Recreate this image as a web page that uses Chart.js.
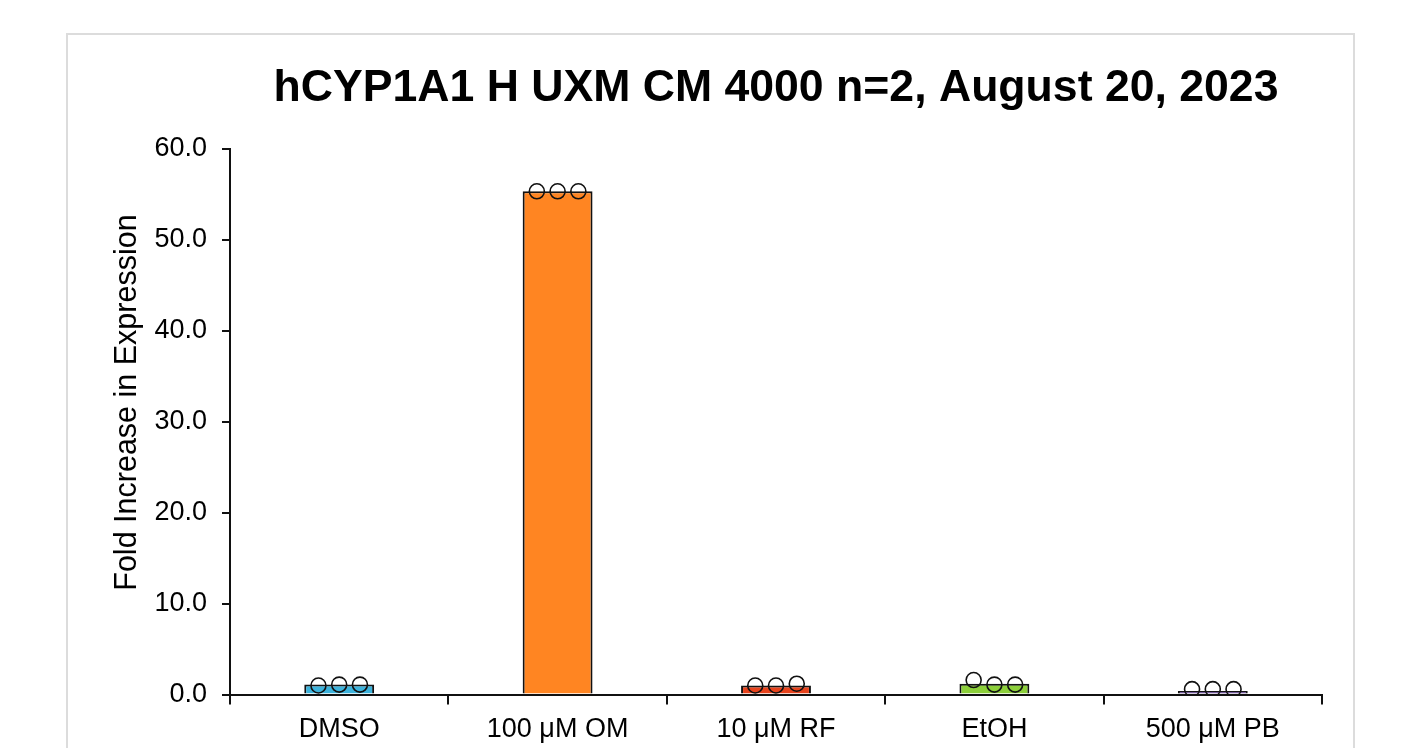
<!DOCTYPE html>
<html>
<head>
<meta charset="utf-8">
<title>hCYP1A1 H UXM CM 4000</title>
<script src="https://cdn.jsdelivr.net/npm/chart.js@4.4.1/dist/chart.umd.min.js"></script>
<style>
  html, body { margin: 0; padding: 0; background: #ffffff; }
  #wrap { position: relative; width: 1410px; height: 748px; overflow: hidden; }
  #frame {
    position: absolute; left: 66px; top: 33px; width: 1289px; height: 760px;
    border: 2px solid #dcdcdc; box-sizing: border-box;
  }
  canvas { position: absolute; left: 0; top: 0; }
</style>
</head>
<body>
<div id="wrap">
  <div id="frame"></div>
  <canvas id="chart" width="1410" height="748"></canvas>
</div>
<script>
// Treatments and measured fold changes
const categories = ['DMSO', '100 \u03bcM OM', '10 \u03bcM RF', 'EtOH', '500 \u03bcM PB'];
const meanFold = [1.1, 55.3, 1.0, 1.2, 0.4];
const replicateA = [1.0, 55.3, 1.0, 1.6, 0.6];
const replicateB = [1.1, 55.3, 1.0, 1.1, 0.6];
const replicateC = [1.1, 55.3, 1.2, 1.1, 0.6];
const barColors = ['#3db3dc', '#ff8522', '#e8431c', '#8ccf3a', '#5b3a8c'];
const yTicks = [0, 10, 20, 30, 40, 50, 60];
const yAxisTitle = 'Fold Increase in Expression';

// replicate positions within each category band (category units)
const spread = [-0.095, 0, 0.095];
function replicatePoints(values, k) {
  return values.map((v, i) => ({ x: i + spread[k], y: v }));
}
const replicateStyle = {
  type: 'scatter',
  xAxisID: 'xr',
  yAxisID: 'y',
  pointRadius: 7.5,
  pointHoverRadius: 7.5,
  pointBackgroundColor: 'rgba(255,255,255,0)',
  pointBorderColor: '#111111',
  pointBorderWidth: 1.6,
  showLine: false
};

const FONT = "'Liberation Sans', Arial, Helvetica, sans-serif";

// rotated y-axis caption, set a little above the plot's vertical centre
const yCaption = {
  id: 'yCaption',
  afterDraw(chart) {
    const { ctx, chartArea } = chart;
    ctx.save();
    ctx.translate(chartArea.left - 102, (chartArea.top + chartArea.bottom) / 2 - 19);
    ctx.rotate(-Math.PI / 2);
    ctx.fillStyle = '#000000';
    ctx.font = '30.5px ' + FONT;
    ctx.textAlign = 'center';
    ctx.textBaseline = 'middle';
    ctx.fillText(yAxisTitle, 0, 0);
    ctx.restore();
  }
};

new Chart(document.getElementById('chart'), {
  data: {
    labels: categories,
    datasets: [
      {
        type: 'bar',
        data: meanFold,
        xAxisID: 'x',
        yAxisID: 'y',
        grouped: false,
        backgroundColor: barColors,
        borderColor: '#111111',
        borderWidth: 2,
        categoryPercentage: 1.0,
        barPercentage: 0.32,
        order: 2
      },
      Object.assign({ data: replicatePoints(replicateA, 0), order: 1 }, replicateStyle),
      Object.assign({ data: replicatePoints(replicateB, 1), order: 1 }, replicateStyle),
      Object.assign({ data: replicatePoints(replicateC, 2), order: 1 }, replicateStyle)
    ]
  },
  plugins: [yCaption],
  options: {
    responsive: false,
    animation: false,
    devicePixelRatio: 1,
    layout: { padding: { top: 40, left: 110, right: 88, bottom: -7 } },
    plugins: {
      legend: { display: false },
      tooltip: { enabled: false },
      title: {
        display: true,
        fullSize: false,
        text: 'hCYP1A1 H UXM CM 4000 n=2, August 20, 2023',
        color: '#000000',
        font: { family: FONT, size: 44.6, weight: 'bold', lineHeight: 1.2 },
        padding: { top: 22, bottom: 33 }
      }
    },
    scales: {
      x: {
        type: 'category',
        offset: true,
        grid: {
          display: true,
          offset: true,
          drawOnChartArea: false,
          drawTicks: true,
          tickLength: 10,
          color: '#111111',
          lineWidth: 2
        },
        border: { display: true, color: '#111111', width: 2 },
        ticks: {
          color: '#000000',
          font: { family: FONT, size: 27 },
          padding: 9,
          maxRotation: 0
        }
      },
      xr: {
        type: 'linear',
        display: false,
        min: -0.5,
        max: 4.5
      },
      y: {
        type: 'linear',
        min: 0,
        max: 60,
        afterBuildTicks: (scale) => { scale.ticks = yTicks.map(v => ({ value: v })); },
        afterFit: (scale) => { scale.width = 120; },
        grid: {
          display: true,
          drawOnChartArea: false,
          drawTicks: true,
          tickLength: 8,
          color: '#111111',
          lineWidth: 2
        },
        border: { display: true, color: '#111111', width: 2 },
        ticks: {
          color: '#000000',
          font: { family: FONT, size: 27 },
          padding: 15,
          callback: (v) => Number(v).toFixed(1)
        }
      }
    }
  }
});
</script>
</body>
</html>
